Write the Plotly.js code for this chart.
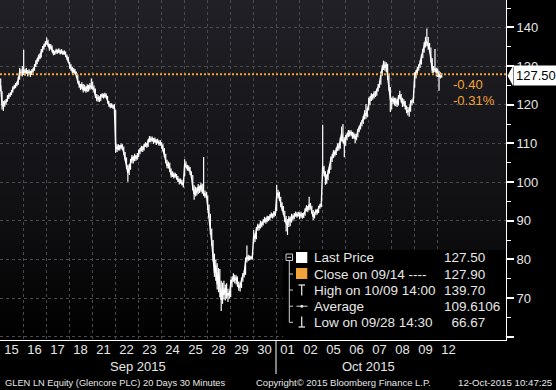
<!DOCTYPE html>
<html>
<head>
<meta charset="utf-8">
<script src="https://cdn.plot.ly/plotly-3.0.1.min.js"></script>
<style>html,body{margin:0;padding:0;background:#000;}#chart{width:556px;height:390px;}</style>
</head>
<body>
<div id="chart"></div>
<script>
// ---------- DATA ----------
const dayLabels = ['15','16','17','18','21','22','23','24','25','28','29','30','01','02','05','06','07','08','09','12'];
const monthLabels = ['Sep 2015', 'Oct 2015'];
const monthFirstDay = [0, 12];
const monthLastDay = [12, 20];

// 30-minute bars, one row per trading day (08:00 ... 16:30)
const barClose = [
 [125,120,119.5,120.5,120.8,121.8,122.3,122.6,123.2,124.2,124.5,125,125.3,126.5,128.5,128.2,128],
 [129,128.3,128.8,128,128.5,127.8,128.6,129,129.8,130.8,131.3,132.5,132.2,133.8,134.5,135.3,135.8],
 [136.5,135.6,134.6,135.2,134,133.2,133.5,134,133.6,134.1,133.4,133.9,133.3,133.6,132.8,132.2,131.2],
 [130.2,129.5,128.6,129,128.3,127.5,126,125,124.5,125.2,123.8,124.6,123.6,124.8,124.1,125,124.5],
 [124.6,123.8,122.4,121.5,121.9,121.3,122.2,122.5,122,122.6,122.1,120.8,120.1,119.6,119.9,119.4,119.7],
 [109,108.5,109.3,108.8,109.5,108.9,107.6,106.2,104.2,102.4,103.8,105.2,106.4,105.6,106.8,106.1,106.9],
 [107.6,108.3,108.9,108.4,109.4,109.8,109.3,110.6,111.4,110.8,111.3,110.4,110.9,110.2,110.7,109.9,110.3],
 [109.6,108.5,107,105.5,104.2,104.8,103.2,101.8,102.2,101.5,101.9,101.2,100.6,100.1,100.4,99.6,99.3],
 [104.8,104.2,103.4,103.8,102.4,101.5,98.6,96.8,98.2,97.3,98.8,97.8,99.2,97.6,97.2,96.6,96.9],
 [93.8,91.5,87.5,84.5,80.5,76.5,78.5,73.5,76.8,72.5,69.5,72.8,70.8,72.6,70.5,71.2,70.6],
 [73.6,74.8,75.6,74.6,75.3,73.8,72.6,73.2,74.6,75.8,76.4,79.6,80.6,80.2,80.6,80.3,80.6],
 [86.2,85.4,87.8,88.6,88.2,89.4,88.9,89.8,90.4,89.8,90.8,90.4,91.2,91.6,91.1,92,91.7],
 [96.5,97.2,95.8,94.2,93.4,92.2,90.8,89.3,88.8,90.6,89.8,91.2,90.7,91.5,91.9,91.3,91.8],
 [91.2,91.8,91,91.6,92.6,93.4,92.8,94.2,93.6,92.4,91,91.8,92.6,92.2,93.4,93.8,94.2],
 [104,102.6,101.2,100.8,102.6,103.4,105.8,106.4,107.8,107.2,108.4,109.4,108.8,110.8,112.6,110.8,109.8],
 [111.2,112,113,112.4,112.9,111.8,112.3,111.2,111.9,113.3,114,114.9,115.4,116.5,117.8,117.2,118.6],
 [120.5,121.6,122.4,121.9,123,122.6,123.6,124.8,125.4,127.8,129.2,130.6,129.6,130.4,127.4,124.2,121.4],
 [120.8,121.6,120.4,121.2,120.2,121.9,122.6,121.4,120.2,120.8,119.4,118.6,118.2,118.6,120.5,120.8,121.2],
 [127.6,128.4,129.3,129.8,130.8,132.4,133.8,135.2,136.6,136.2,135.4,134.2,131.8,128.9,129.4,129.2,128.4],
 [128.6,127.2,127.8,127.5]
];
const barHigh = [
 [126.8,123.5,121,121.2,121.5,122.5,123,123.2,123.8,124.8,125.2,125.6,126,127.2,129.5,129.2,130],
 [134.2,129.3,129.5,129,129.2,128.8,129.2,129.6,130.5,131.5,132,133,133.3,134.4,135.2,135.8,136.4],
 [137.4,136.8,135.8,135.7,135.3,134.2,134,134.5,134.3,134.6,134.2,134.4,134,134.1,133.8,133,132.4],
 [131,130.5,129.8,129.5,129.2,128.6,127.8,126.2,125.4,125.8,125.4,125.2,124.8,125.3,125.2,125.6,126.8],
 [126,125,124.2,122.8,122.5,122.2,122.8,123,122.9,123.1,122.9,122.3,121,120.4,120.4,120.1,120.2],
 [118.7,109.8,109.8,109.6,110,109.8,109.2,107.8,106.4,104.5,104.6,106,107,106.8,107.3,107,107.5],
 [108.4,108.8,109.4,109.3,109.9,110.3,110.2,111.1,111.9,111.8,111.8,111.4,111.5,111.1,111.2,110.8,110.8],
 [110.3,109.8,108.8,107.3,105.8,105.3,105,103.5,102.8,102.5,102.4,102.1,101.6,100.9,100.9,100.6,99.9],
 [105.9,105.3,104.5,104.3,103.9,102.8,101.8,99.2,98.8,98.6,99.5,99.1,99.8,99.6,106.5,97.8,97.5],
 [96.5,94.2,91.8,88,85,81.5,80,79,77.8,77.5,74.5,74,74.5,73.5,73.8,72.4,71.8],
 [74.8,75.6,76.4,76,75.9,75.6,74.3,74,75.3,76.5,77.2,80.5,83.6,81.2,81,80.9,81],
 [87.6,86.8,88.4,89.2,89,90,89.8,90.4,91,90.8,91.3,91.2,91.7,92.1,91.9,92.5,92.4],
 [99.3,98,97.5,96.2,94.8,93.8,92.6,91.2,90.4,91.2,91,91.8,91.6,92,92.4,92.2,92.3],
 [92.2,92.3,92,92.1,93.2,94,93.8,96.2,94.6,93.9,92.8,92.3,93,93,93.9,94.4,94.6],
 [114.8,104.2,102.8,102,103.2,104,106.6,107.2,108.3,108.2,108.9,110,110.2,111.5,114.4,115,111.6],
 [112.2,112.6,113.5,113.4,113.4,113,112.8,112.5,112.4,113.8,114.6,115.4,116,117.1,118.6,120.2,119.2],
 [121.8,122.2,123,122.8,123.5,123.6,124.2,125.4,126.2,128.6,130.2,131.4,131.2,131,130.6,127.8,124.6],
 [121.8,122.2,121.8,121.8,121.5,122.5,123.6,122.8,121.8,121.4,121,119.8,119.4,119.2,121.2,121.4,121.8],
 [128.4,129,129.8,130.5,131.5,133,134.5,136.2,137.6,139.7,137.5,136,134.8,132,130,134.4,129.6],
 [129.4,128.8,128.4,128.2]
];
const barLow = [
 [123.5,118.8,118.4,119.5,120,120.8,121.5,122,122.5,123.2,124,124.3,124.8,125.2,126.5,127.5,127.3],
 [127.7,127.5,128,127.3,127.7,127.2,127.7,128.3,128.8,129.8,130.5,131.2,131.8,132.2,133.5,134.2,135],
 [135.5,135,134,134.3,133.6,132.8,132.9,133.2,133.2,133.4,133,133.2,132.9,133,132.3,131.5,130.8],
 [129.3,128.8,128,128.2,127.8,127,125.5,124.4,123.8,124,123.2,123.5,123.1,123.3,123.4,123.9,124],
 [123.9,123.2,121.8,120.9,120.8,120.7,121,121.8,121.6,121.8,121.6,120.3,119.5,119.1,119.2,118.9,119],
 [107.6,107.8,108.2,108.2,108.5,108.3,107.1,105.6,103.4,100.1,101.8,103.2,104.9,104.8,105.4,105.5,105.8],
 [106.5,107.2,107.9,107.8,108.2,109.1,108.9,109.1,110.3,110.3,110.5,109.9,110.2,109.6,110,109.4,109.4],
 [108.6,107.9,106.5,104.9,103.6,103.5,102.6,101.2,101.3,100.9,101.1,100.6,100,99.4,99.6,99.1,98.6],
 [101.5,103.6,102.9,102.8,101.8,100.9,97.9,95.4,96.3,96.5,96.9,97.2,97.5,97,96.4,95.9,96.2],
 [92.8,90.8,86.5,83.5,79.5,75.5,74.5,72.2,71.5,70.2,66.67,68.5,69.6,69.4,69.8,69,69.9],
 [70.2,72.8,74.2,73.8,73.5,72.9,71.9,71.7,72.6,74.2,75.3,76,79.2,79.6,79.8,79.9,80],
 [84.2,84.5,85.2,87.4,87.5,88,88.3,88.8,89.5,89.2,89.6,89.9,90.1,90.8,90.6,90.9,91.2],
 [92.5,95.8,95.2,93.5,92.6,91.5,89.6,87.2,86.3,88.4,88.6,89.5,90,90.4,91,90.8,91.1],
 [90.4,90.8,90.5,90.7,91.3,92.4,92.2,92.7,93,91.8,90.2,90.6,91.4,91.6,92,93.1,93.5],
 [102.5,101.5,99.3,99.6,100.5,102.2,103.2,105.2,106.2,106.6,107,108,108.2,108.6,110.5,110.2,106.4],
 [109.4,110.8,111.6,111.8,112,111.2,111.2,110.1,110.8,111.6,112.9,113.6,114.4,115,116.2,116.4,116.8],
 [118.6,119.9,121,121.3,121.6,122,122.3,123.4,124.4,125.2,127.5,129,128.8,128.5,126.5,123.6,118.1],
 [118.8,120.2,119.8,119.6,119.4,119.8,121.4,120.6,119.4,119.6,118.8,117.8,117.2,116.9,118.2,119.8,120.4],
 [124.4,126.8,127.9,128.8,129.5,130.4,132,133.5,134.8,135.2,134.2,133.5,131,128.2,128.3,128.5,127.3],
 [127.2,123.6,126.8,127]
];
const barsPerDay = 17;
const lastPrice = 127.50;
const prevClose = 127.90;   // Close on 09/14
const highInfo = {label: 'High on 10/09 14:00', value: 139.70};
const avgInfo = {label: 'Average', value: 109.6106};
const lowInfo = {label: 'Low on 09/28 14:30', value: 66.67};
const yTickVals = [60,70,80,90,100,110,120,130,140];
const yTickText = ['','70','80','90','100','110','120','130','140'];
const yMinorVals = [65,75,85,95,105,115,125,135,145];
const footerLeft = 'GLEN LN Equity (Glencore PLC) 20 Days 30 Minutes';
const footerMid = 'Copyright\u00a9 2015 Bloomberg Finance L.P.';
const footerRight = '12-Oct-2015 10:47:25';

// ---------- BUILD ----------
const X = [], C = [], EP = [], EM = [];
barClose.forEach((row, d) => {
  row.forEach((c, k) => {
    X.push(d + (k + 0.5) / barsPerDay);
    C.push(c);
    EP.push(barHigh[d][k] - c);
    EM.push(c - barLow[d][k]);
  });
});

const xRange = [0, 22];
const yRange = [59.15, 147.1];
const W = 506, H = 340;
const px = v => v / W;
const py = v => (H - v) / H;
const yp = p => (p - yRange[0]) / (yRange[1] - yRange[0]);
const FONT = 'Liberation Sans, Arial, sans-serif';
const TXT = '#e6e6e6';
const ORANGE = '#f2a23a';
const GRID = '#4a4a4e';

const trace = {
  type: 'scatter', mode: 'lines', x: X, y: C,
  line: {color: '#ffffff', width: 1.4},
  error_y: {type: 'data', symmetric: false, array: EP, arrayminus: EM, color: '#ffffff', thickness: 1.2, width: 0},
  hoverinfo: 'skip', showlegend: false
};

const gradSvg = '<svg xmlns="http://www.w3.org/2000/svg" width="10" height="100" preserveAspectRatio="none"><defs><linearGradient id="g" x1="0" y1="0" x2="0" y2="1"><stop offset="0" stop-color="#202026"/><stop offset="0.6" stop-color="#111114"/><stop offset="1" stop-color="#000000"/></linearGradient></defs><rect width="10" height="100" fill="url(#g)"/></svg>';

const shapes = [];
const annotations = [];
// previous close line
shapes.push({type: 'line', xref: 'paper', yref: 'paper', x0: 0, x1: 1, y0: yp(prevClose), y1: yp(prevClose),
  line: {color: ORANGE, width: 2, dash: '2px,2px'}, layer: 'above'});
// month separator
const sepX = monthFirstDay[1] / xRange[1];
shapes.push({type: 'line', xref: 'paper', yref: 'paper', x0: sepX, x1: sepX, y0: 0, y1: py(374),
  line: {color: '#ffffff', width: 1}});
// month labels
monthLabels.forEach((m, i) => {
  annotations.push({text: m, xref: 'x', yref: 'paper', x: (monthFirstDay[i] + monthLastDay[i]) / 2, y: py(366),
    xanchor: 'center', yanchor: 'middle', showarrow: false, font: {family: FONT, size: 13, color: TXT}});
});
// last price tag
annotations.push({text: lastPrice.toFixed(2), xref: 'paper', yref: 'paper', x: px(512.5), y: yp(lastPrice),
  xanchor: 'left', yanchor: 'middle', showarrow: false, bgcolor: '#ffffff', borderpad: 2,
  font: {family: FONT, size: 13, color: '#000000'}});
const tagHalf = 10 / H;
shapes.push({type: 'path', xref: 'paper', yref: 'paper', fillcolor: '#ffffff', line: {width: 0},
  path: `M ${px(507.5)},${yp(lastPrice)} L ${px(513)},${yp(lastPrice) + tagHalf} L ${px(513)},${yp(lastPrice) - tagHalf} Z`});
// change labels
const chg = lastPrice - prevClose;
const chgPct = chg / prevClose * 100;
annotations.push({text: chg.toFixed(2), xref: 'paper', yref: 'paper', x: px(451), y: py(84.5), xanchor: 'left', yanchor: 'middle',
  showarrow: false, font: {family: FONT, size: 13, color: ORANGE}});
annotations.push({text: chgPct.toFixed(2) + '%', xref: 'paper', yref: 'paper', x: px(451), y: py(100.5), xanchor: 'left', yanchor: 'middle',
  showarrow: false, font: {family: FONT, size: 13, color: ORANGE}});

// legend box
shapes.push({type: 'rect', xref: 'paper', yref: 'paper', x0: px(283), x1: px(505.5), y0: py(339), y1: py(250),
  fillcolor: '#000000', line: {width: 0}, layer: 'above'});
const rowsY = [257.7, 274, 290, 306.2, 322.3];
const legendText = ['Last Price', 'Close on 09/14 ----', highInfo.label, avgInfo.label, lowInfo.label];
const legendVals = [lastPrice.toFixed(2), prevClose.toFixed(2), highInfo.value.toFixed(2), avgInfo.value.toFixed(4), '\u2007' + lowInfo.value.toFixed(2)];
const LG = '#cfcfcf';
const ln = (x0, y0, x1, y1, color, w) => shapes.push({type: 'line', xref: 'paper', yref: 'paper', x0: px(x0), x1: px(x1), y0: py(y0), y1: py(y1), line: {color: color || LG, width: w || 1}, layer: 'above'});
// collapse box
shapes.push({type: 'rect', xref: 'paper', yref: 'paper', x0: px(286), x1: px(292.5), y0: py(260.5), y1: py(254), line: {color: LG, width: 1}, fillcolor: '#000', layer: 'above'});
ln(287.5, 257.3, 291, 257.3);
ln(289.3, 260.5, 289.3, 322.3);
[274, 290, 306.2, 322.3].forEach(y => ln(289.3, y, 293, y));
// icons
shapes.push({type: 'rect', xref: 'paper', yref: 'paper', x0: px(296), x1: px(307.3), y0: py(263), y1: py(252), fillcolor: '#ffffff', line: {width: 0}, layer: 'above'});
shapes.push({type: 'rect', xref: 'paper', yref: 'paper', x0: px(296), x1: px(307.3), y0: py(279), y1: py(268), fillcolor: ORANGE, line: {width: 0}, layer: 'above'});
ln(301.7, 285, 301.7, 295.5, '#e0e0e0', 1.3); ln(298.5, 285, 305, 285, '#e0e0e0', 1.3);
ln(296.5, 306.2, 307.5, 306.2, '#e0e0e0', 1);
shapes.push({type: 'circle', xref: 'paper', yref: 'paper', x0: px(300.3), x1: px(303.3), y0: py(307.7), y1: py(304.7), fillcolor: '#e0e0e0', line: {width: 0}, layer: 'above'});
ln(301.7, 316.5, 301.7, 327, '#e0e0e0', 1.3); ln(298.5, 327, 305, 327, '#e0e0e0', 1.3);
legendText.forEach((t, i) => {
  annotations.push({text: t, xref: 'paper', yref: 'paper', x: px(311.5), y: py(rowsY[i]), xanchor: 'left', yanchor: 'middle',
    showarrow: false, font: {family: FONT, size: 13.5, color: TXT}});
  annotations.push({text: legendVals[i], xref: 'paper', yref: 'paper', x: px(441.5), y: py(rowsY[i]), xanchor: 'left', yanchor: 'middle',
    showarrow: false, font: {family: FONT, size: 13.5, color: TXT}});
});
// footer
annotations.push({text: footerLeft, xref: 'paper', yref: 'paper', x: px(3), y: py(382.7), xanchor: 'left', yanchor: 'middle', showarrow: false, font: {family: FONT, size: 9.3, color: TXT}});
annotations.push({text: footerMid, xref: 'paper', yref: 'paper', x: px(254), y: py(382.7), xanchor: 'left', yanchor: 'middle', showarrow: false, font: {family: FONT, size: 9.5, color: TXT}});
annotations.push({text: footerRight, xref: 'paper', yref: 'paper', x: px(554), y: py(382.7), xanchor: 'right', yanchor: 'middle', showarrow: false, font: {family: FONT, size: 9.7, color: TXT}});

const dayIdx = dayLabels.map((_, i) => i);
const layout = {
  width: 556, height: 390,
  margin: {l: 0, r: 50, t: 0, b: 50, pad: 0},
  paper_bgcolor: '#000000', plot_bgcolor: '#000000',
  showlegend: false,
  images: [{source: 'data:image/svg+xml;charset=utf-8,' + encodeURIComponent(gradSvg), xref: 'paper', yref: 'paper',
    x: 0, y: 1, sizex: 1, sizey: 1, xanchor: 'left', yanchor: 'top', sizing: 'stretch', layer: 'below'}],
  xaxis: {
    type: 'linear', range: xRange, fixedrange: true,
    tickmode: 'array', tickvals: dayIdx.map(i => i + 0.5), ticktext: dayLabels,
    ticks: '', ticklabelstandoff: -3,
    tickfont: {family: FONT, size: 13, color: TXT},
    showgrid: false,
    minor: {tickmode: 'array', tickvals: dayIdx, ticks: '', showgrid: true, gridcolor: GRID, griddash: '3px,3px', gridwidth: 1},
    showline: true, linecolor: '#ffffff', linewidth: 1, zeroline: false
  },
  yaxis: {
    side: 'right', range: yRange, fixedrange: true,
    tickmode: 'array', tickvals: yTickVals, ticktext: yTickText,
    ticks: 'outside', ticklen: 7, tickwidth: 2, tickcolor: '#ffffff',
    tickfont: {family: FONT, size: 13, color: TXT},
    minor: {tickmode: 'array', tickvals: yMinorVals, ticks: 'outside', ticklen: 4, tickwidth: 1, tickcolor: '#ffffff', showgrid: false},
    showgrid: true, gridcolor: GRID, griddash: '3px,3px', gridwidth: 1,
    showline: true, linecolor: '#ffffff', linewidth: 1, zeroline: false
  },
  shapes: shapes,
  annotations: annotations
};

Plotly.newPlot('chart', [trace], layout, {staticPlot: true, displayModeBar: false});
</script>
</body>
</html>
